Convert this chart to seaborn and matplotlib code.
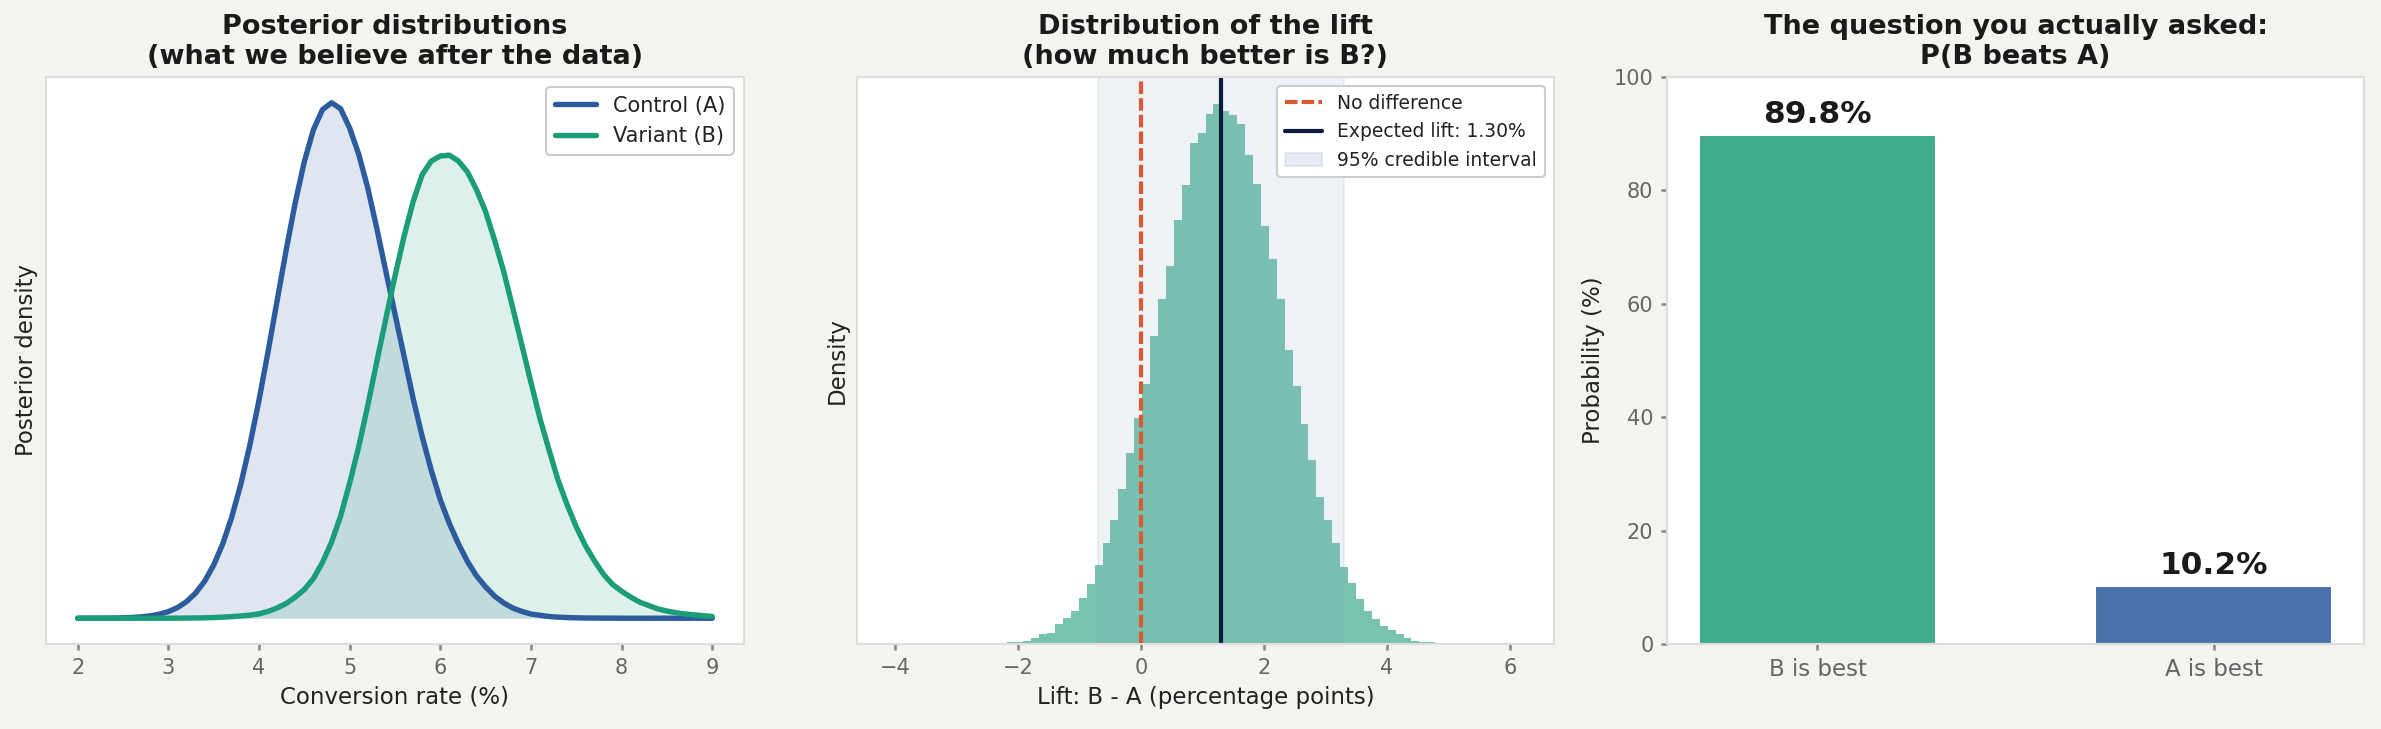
import numpy as np
import pandas as pd
import seaborn as sns
import matplotlib.pyplot as plt
from matplotlib.patches import Patch

# ---- posterior curves on a 0.1 pp grid (2.0 .. 9.0) ----
rate_grid = np.round(np.linspace(2.0, 9.0, 71), 1)
control_density = [
    0.0000, 0.0000, 0.0001, 0.0001, 0.0002, 0.0005, 0.0009, 0.0016, 0.0028, 0.0048,
    0.0078, 0.0126, 0.0196, 0.0297, 0.0438, 0.0630, 0.0881, 0.1200, 0.1591, 0.2055,
    0.2582, 0.3158, 0.3761, 0.4360, 0.4920, 0.5405, 0.5781, 0.6019, 0.6100, 0.6030,
    0.5800, 0.5490, 0.5090, 0.4610, 0.4100, 0.3600, 0.3100, 0.2600, 0.2150, 0.1750,
    0.1400, 0.1120, 0.0880, 0.0670, 0.0500, 0.0370, 0.0260, 0.0180, 0.0120, 0.0080,
    0.0050, 0.0035, 0.0020, 0.0013, 0.0008, 0.0005, 0.0003, 0.0002, 0.0001, 0.0001,
    0.0000, 0.0000, 0.0000, 0.0000, 0.0000, 0.0000, 0.0000, 0.0000, 0.0000, 0.0000,
    0.0000,
]
variant_density = [
    0.0000, 0.0000, 0.0000, 0.0000, 0.0000, 0.0000, 0.0000, 0.0000, 0.0000, 0.0000,
    0.0000, 0.0001, 0.0002, 0.0003, 0.0005, 0.0008, 0.0013, 0.0019, 0.0027, 0.0036,
    0.0052, 0.0080, 0.0122, 0.0175, 0.0250, 0.0340, 0.0470, 0.0660, 0.0900, 0.1210,
    0.1600, 0.2030, 0.2520, 0.3040, 0.3550, 0.4050, 0.4520, 0.4930, 0.5250, 0.5410,
    0.5470, 0.5480, 0.5410, 0.5280, 0.5070, 0.4810, 0.4470, 0.4100, 0.3670, 0.3230,
    0.2790, 0.2360, 0.1990, 0.1630, 0.1340, 0.1080, 0.0860, 0.0680, 0.0520, 0.0400,
    0.0320, 0.0250, 0.0190, 0.0150, 0.0110, 0.0085, 0.0065, 0.0050, 0.0040, 0.0030,
    0.0021,
]
group_names = ["Control (A)", "Variant (B)"]

# ---- lift histogram: 80 bins between the sample min and max ----
lift_lo, lift_hi, lift_nbins = -4.10, 6.20, 80
lift_density = [
    0.0, 0.0, 0.0, 0.0, 0.0, 0.0, 0.0, 0.0, 0.0, 0.0,
    0.0, 0.0, 0.0, 0.0003, 0.0005, 0.0014, 0.0014, 0.0021, 0.0047, 0.0073,
    0.0078, 0.0143, 0.0188, 0.0240, 0.0339, 0.0435, 0.0573, 0.0740, 0.0902, 0.1128,
    0.1397, 0.1647, 0.1897, 0.2244, 0.2515, 0.2757, 0.3091, 0.3346, 0.3654, 0.3732,
    0.3867, 0.3940, 0.3888, 0.3862, 0.3792, 0.3570, 0.3354, 0.3049, 0.2809, 0.2517,
    0.2145, 0.1882, 0.1603, 0.1339, 0.1076, 0.0902, 0.0740, 0.0560, 0.0446, 0.0328,
    0.0242, 0.0182, 0.0130, 0.0102, 0.0073, 0.0044, 0.0025, 0.0015, 0.0012, 0.0010,
    0.0008, 0.0006, 0.0, 0.0, 0.0, 0.0, 0.0, 0.0, 0.0, 0.0,
]
expected_lift = 1.30
ci_low, ci_high = -0.69, 3.30

# ---- probability of being best ----
outcomes = ["B is best", "A is best"]
prob_best = [89.8, 10.2]

BG = "#f4f3f0"
BLUE = "#2c5c9e"
GREEN = "#1b9e77"
BAR_GREEN = "#3fac8b"
BAR_BLUE = "#4a72aa"
ORANGE = "#d95a30"
NAVY = "#0d1b3e"
SPAN = "#8fa3bf"

sns.set_theme(style="ticks")
plt.rcParams.update({
    "font.family": ["DejaVu Sans"],
    "figure.facecolor": BG,
    "axes.facecolor": "white",
    "axes.edgecolor": "#dddddd",
    "axes.linewidth": 1.0,
    "axes.labelsize": 11,
    "axes.labelcolor": "#222222",
    "axes.titlesize": 13,
    "axes.titleweight": "bold",
    "axes.titlecolor": "#1a1a1a",
    "xtick.color": "#888888",
    "ytick.color": "#888888",
    "xtick.labelcolor": "#666666",
    "ytick.labelcolor": "#666666",
    "xtick.labelsize": 10,
    "ytick.labelsize": 10,
    "xtick.major.size": 3,
    "ytick.major.size": 3,
    "legend.edgecolor": "#cccccc",
    "legend.framealpha": 1.0,
    "text.color": "#222222",
})

W, H = 2381, 729
fig = plt.figure(figsize=(W / 150, H / 150), dpi=150)
ax1 = fig.add_axes([46 / W, 1 - 644 / H, 698 / W, 567 / H])
ax2 = fig.add_axes([857 / W, 1 - 644 / H, 697 / W, 567 / H])
ax3 = fig.add_axes([1667 / W, 1 - 644 / H, 697 / W, 567 / H])

# panel 1: posteriors
post = pd.DataFrame({
    "rate": np.concatenate([rate_grid, rate_grid]),
    "density": control_density + variant_density,
    "group": [group_names[0]] * len(rate_grid) + [group_names[1]] * len(rate_grid),
})
sns.lineplot(data=post, x="rate", y="density", hue="group", hue_order=group_names,
             palette=[BLUE, GREEN], linewidth=2.6, legend=False, ax=ax1)
ax1.fill_between(rate_grid, control_density, color=BLUE, alpha=0.15, linewidth=0)
ax1.fill_between(rate_grid, variant_density, color=GREEN, alpha=0.15, linewidth=0)
ax1.legend(handles=ax1.lines[:2], labels=group_names, loc="upper right", fontsize=10)
ax1.set_yticks([])
ax1.set_xticks(range(2, 10))
ax1.set_xlabel("Conversion rate (%)")
ax1.set_ylabel("Posterior density")
ax1.set_title("Posterior distributions\n(what we believe after the data)")

# panel 2: lift distribution
edges = np.linspace(lift_lo, lift_hi, lift_nbins + 1)
centers = (edges[:-1] + edges[1:]) / 2
sns.histplot(x=centers, weights=lift_density, bins=lift_nbins, binrange=(lift_lo, lift_hi),
             color=GREEN, alpha=0.6, linewidth=0, ax=ax2)
ax2.axvspan(ci_low, ci_high, color=SPAN, alpha=0.15)
l0 = ax2.axvline(0, color=ORANGE, linestyle="--", dashes=(3.0, 1.0), linewidth=2)
l1 = ax2.axvline(expected_lift, color=NAVY, linewidth=2)
ax2.legend(handles=[l0, l1, Patch(facecolor=SPAN, edgecolor=SPAN, alpha=0.2)],
           labels=["No difference", f"Expected lift: {expected_lift:.2f}%", "95% credible interval"],
           loc="upper right", fontsize=9)
ax2.set_yticks([])
ax2.set_xticks([-4, -2, 0, 2, 4, 6])
ax2.set_xlabel("Lift: B - A (percentage points)")
ax2.set_ylabel("Density")
ax2.set_title("Distribution of the lift\n(how much better is B?)")

# panel 3: P(B beats A)
sns.barplot(x=outcomes, y=prob_best, hue=outcomes, palette=[BAR_GREEN, BAR_BLUE],
            width=0.6, saturation=1, legend=False, ax=ax3)
for i, v in enumerate(prob_best):
    ax3.text(i, v + 1.0, f"{v:.1f}%", ha="center", va="bottom",
             fontsize=15, fontweight="bold", color="#1a1a1a")
ax3.set_xlim(-0.38, 1.38)
ax3.set_ylim(0, 100)
ax3.set_yticks(range(0, 101, 20))
ax3.tick_params(axis="x", labelsize=11)
ax3.set_ylabel("Probability (%)")
ax3.set_xlabel("")
ax3.set_title("The question you actually asked:\nP(B beats A)")

fig.savefig("out.png", dpi=150, facecolor=BG)
